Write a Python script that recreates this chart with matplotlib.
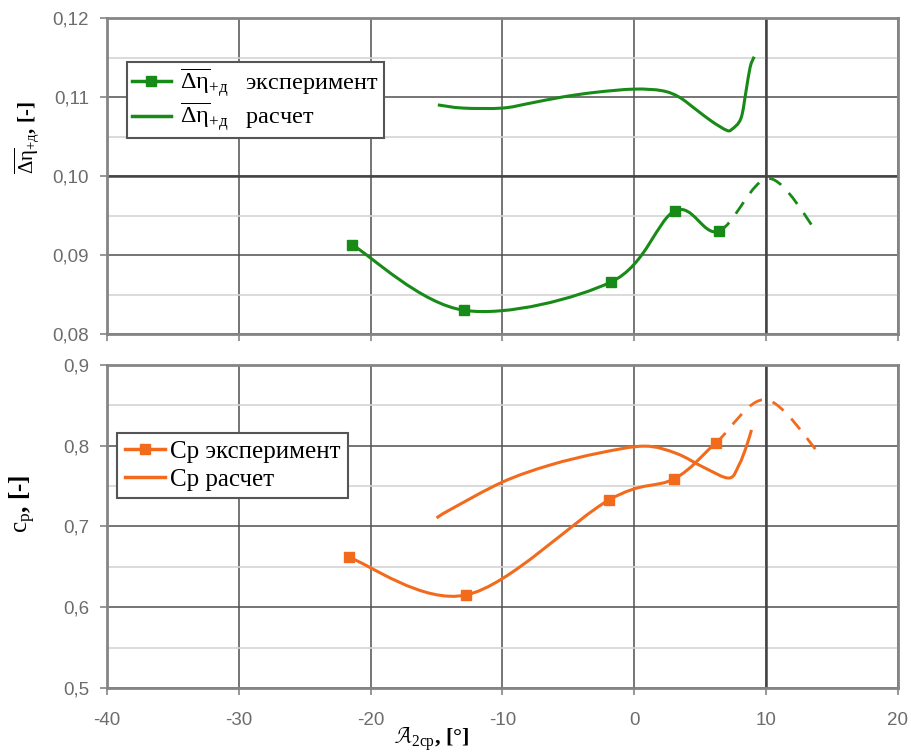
import matplotlib
matplotlib.use("Agg")
import matplotlib.pyplot as plt
import numpy as np
from matplotlib.path import Path
from matplotlib.patches import PathPatch
from matplotlib.lines import Line2D
from matplotlib.ticker import FuncFormatter, MultipleLocator

plt.rcParams['font.family'] = ['Liberation Sans', 'DejaVu Sans']
plt.rcParams['axes.unicode_minus'] = False
plt.rcParams['mathtext.fontset'] = 'custom'
plt.rcParams['mathtext.rm'] = 'Liberation Serif'
plt.rcParams['mathtext.it'] = 'Liberation Serif:italic'
plt.rcParams['mathtext.bf'] = 'Liberation Serif:bold'

# losses, experiment (last two points are the dashed extrapolation)
dEta_exp_x = [-21.4, -12.9, -1.74, 3.1, 6.4, 10.2, 13.9]
dEta_exp_y = [0.0913, 0.0830, 0.0866, 0.0956, 0.0930, 0.0997, 0.0928]
# losses, calculation
dEta_calc_x = [-14.9, -13.0, -10.0, -7.95, -5.45, -2.9, 0.0, 2.1, 3.4, 4.7, 5.9, 7.0,
               7.4, 8.1, 8.5, 8.8, 9.1]
dEta_calc_y = [0.1090, 0.1086, 0.1086, 0.1092, 0.1100, 0.1106, 0.1110, 0.1108, 0.1100,
               0.1084, 0.1069, 0.1058, 0.1059, 0.1073, 0.1109, 0.1138, 0.1151]

# Cp, experiment
cp_exp_x = [-21.67, -12.73, -1.9, 3.03, 6.2, 10.0, 14.1]
cp_exp_y = [0.662, 0.6153, 0.733, 0.759, 0.8035, 0.857, 0.789]
# Cp, calculation
cp_calc_x = [-15.0, -14.0, -10.0, -6.4, -2.65, 0.8, 3.2, 5.3, 7.2, 7.95, 8.5, 8.9]
cp_calc_y = [0.7106, 0.7205, 0.755, 0.776, 0.791, 0.7995, 0.7905, 0.773, 0.760, 0.7762,
             0.7985, 0.8196]

n_dashed = 2  # number of trailing extrapolated segments

GREEN = '#178a17'
ORANGE = '#f26b1d'
GRID_MAJOR = '#505050'
GRID_MINOR = '#d4d4d4'
SPINE = '#858585'


def bezier_segments(x, y):
    # catmull-rom -> cubic bezier, same kind of smoothing Excel uses
    p = np.column_stack([x, y]).astype(float)
    n = len(p)
    segs = []
    for i in range(n - 1):
        p0 = p[i - 1] if i > 0 else p[i]
        p1 = p[i]
        p2 = p[i + 1]
        p3 = p[i + 2] if i + 2 < n else p[i + 1]
        c1 = p1 + (p2 - p0) / 6.0
        c2 = p2 - (p3 - p1) / 6.0
        segs.append((p1, c1, c2, p2))
    return segs


def smooth_patch(ax, segs, color, ls='-', lw=2.0):
    verts = [segs[0][0]]
    codes = [Path.MOVETO]
    for s in segs:
        verts += [s[1], s[2], s[3]]
        codes += [Path.CURVE4] * 3
    patch = PathPatch(Path(verts, codes), fill=False, edgecolor=color, lw=lw,
                      linestyle=ls, capstyle='butt', joinstyle='round', zorder=3)
    ax.add_patch(patch)


def style_axes(ax, ymin, ymax, ystep, fmt):
    ax.set_xlim(-40, 20)
    ax.set_ylim(ymin, ymax)
    ax.xaxis.set_major_locator(MultipleLocator(10))
    ax.yaxis.set_major_locator(MultipleLocator(ystep))
    ax.yaxis.set_minor_locator(MultipleLocator(ystep / 2))
    ax.yaxis.set_major_formatter(FuncFormatter(lambda v, p: (fmt % v).replace('.', ',')))
    ax.grid(True, which='major', color=GRID_MAJOR, lw=1.1)
    ax.grid(True, which='minor', axis='y', color=GRID_MINOR, lw=1.2)
    ax.set_axisbelow(True)
    for sp in ax.spines.values():
        sp.set_color(SPINE)
        sp.set_linewidth(2.0)
    ax.tick_params(which='major', direction='out', length=5, width=1.2, color=SPINE,
                   labelsize=13.5, labelcolor='#6c6c6c', pad=8)
    ax.tick_params(which='minor', length=0)


fig = plt.figure(figsize=(9.11, 7.53), dpi=100)
ax1 = fig.add_axes([0.1175, 0.5564, 0.868, 0.4197])
ax2 = fig.add_axes([0.1175, 0.0863, 0.868, 0.4290])

# top panel: losses
style_axes(ax1, 0.08, 0.12, 0.01, '%.2f')
ax1.tick_params(axis='x', labelbottom=False)
ax1.axhline(0.10, color='#444444', lw=1.8, zorder=1)
ax1.axvline(10, color='#444444', lw=1.8, zorder=1)

segs = bezier_segments(dEta_exp_x, dEta_exp_y)
smooth_patch(ax1, segs[:-n_dashed], GREEN, lw=2.2)
smooth_patch(ax1, segs[-n_dashed:], GREEN, ls=(0, (5, 4)), lw=2.0)
ax1.plot(dEta_exp_x[:-n_dashed], dEta_exp_y[:-n_dashed], 's', color=GREEN, ms=6.5, zorder=4)
smooth_patch(ax1, bezier_segments(dEta_calc_x, dEta_calc_y), GREEN, lw=2.2)

lbl = r'$\overline{\mathrm{\Delta\eta}}_{+\mathrm{д}}$'
h1 = [Line2D([], [], color=GREEN, lw=2.5, marker='s', ms=6.5),
      Line2D([], [], color=GREEN, lw=2.5)]
leg1 = ax1.legend(h1, [lbl + '   эксперимент', lbl + '   расчет'],
                  loc='upper left', bbox_to_anchor=(0.025, 0.862), borderaxespad=0,
                  fancybox=False, framealpha=1, edgecolor='#555555', handlelength=1.6,
                  borderpad=0.2, labelspacing=0.05, handletextpad=0.4,
                  prop={'family': 'Liberation Serif', 'size': 17.5})
leg1.get_frame().set_linewidth(1.5)

ax1.set_ylabel(lbl + ', [-]', fontsize=15, family='Liberation Serif', fontweight='bold')
ax1.yaxis.set_label_coords(-0.083, 0.62)

# bottom panel: Cp
style_axes(ax2, 0.5, 0.9, 0.1, '%.1f')
ax2.axvline(10, color='#444444', lw=1.8, zorder=1)

segs = bezier_segments(cp_exp_x, cp_exp_y)
smooth_patch(ax2, segs[:-n_dashed], ORANGE, lw=2.2)
smooth_patch(ax2, segs[-n_dashed:], ORANGE, ls=(0, (5, 4)), lw=2.0)
ax2.plot(cp_exp_x[:-n_dashed], cp_exp_y[:-n_dashed], 's', color=ORANGE, ms=6.5, zorder=4)
smooth_patch(ax2, bezier_segments(cp_calc_x, cp_calc_y), ORANGE, lw=2.2)

h2 = [Line2D([], [], color=ORANGE, lw=2.5, marker='s', ms=6.5),
      Line2D([], [], color=ORANGE, lw=2.5)]
leg2 = ax2.legend(h2, ['Cp эксперимент', 'Cp расчет'],
                  loc='upper left', bbox_to_anchor=(0.0126, 0.789), borderaxespad=0,
                  fancybox=False, framealpha=1, edgecolor='#555555', handlelength=1.6,
                  borderpad=0.3, labelspacing=0.2, handletextpad=0.2,
                  prop={'family': 'Liberation Serif', 'size': 18})
leg2.get_frame().set_linewidth(1.5)

ax2.set_ylabel(r'$\mathrm{c}_{\mathrm{р}}$, [-]', fontsize=18, family='Liberation Serif',
               fontweight='bold')
ax2.yaxis.set_label_coords(-0.087, 0.57)

ax2.tick_params(axis='x', pad=12)
ax2.set_xlabel(r'$\mathcal{A}_{2\mathrm{ср}}$, [°]', fontsize=16, family='Liberation Serif',
               fontweight='bold')
ax2.xaxis.set_label_coords(0.41, -0.115)

fig.savefig('out.png', dpi=100)
